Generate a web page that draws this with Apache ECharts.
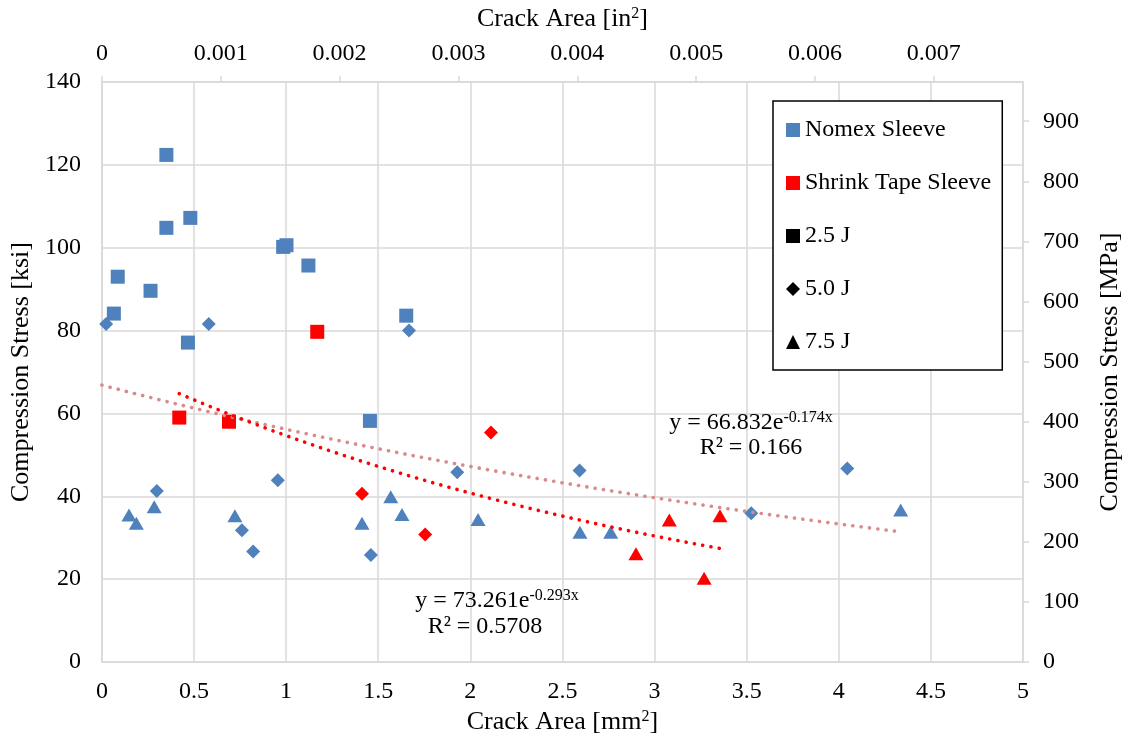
<!DOCTYPE html>
<html><head><meta charset="utf-8">
<script src="https://cdn.jsdelivr.net/npm/echarts@6/dist/echarts.min.js"></script>
<style>html,body{margin:0;padding:0;background:#fff}#c{width:1131px;height:744px}</style>
</head><body><div id="c"></div>
<script>
// ---- data (crack area in mm^2, compression stress in ksi) ----
const nomex25X = [0.350, 0.350, 0.480, 0.086, 0.264, 0.065, 0.467, 0.984, 1.002, 1.121, 1.652, 1.455];
const nomex25Y = [122.4, 104.8, 107.2, 93.0, 89.6, 84.1, 77.1, 100.2, 100.6, 95.7, 83.6, 58.2];
const nomex50X = [0.023, 0.580, 1.667, 0.298, 0.955, 0.760, 0.821, 1.460, 1.929, 2.593, 3.525, 4.046];
const nomex50Y = [81.6, 81.6, 80.0, 41.3, 43.9, 31.8, 26.7, 25.8, 45.8, 46.2, 35.9, 46.7];
const nomex75X = [0.147, 0.187, 0.284, 0.722, 1.412, 1.568, 1.629, 2.042, 2.595, 2.762, 4.336];
const nomex75Y = [35.5, 33.5, 37.5, 35.3, 33.5, 39.9, 35.6, 34.4, 31.3, 31.3, 36.7];
const shrink25X = [1.169, 0.420, 0.690];
const shrink25Y = [79.7, 59.0, 58.0];
const shrink50X = [1.412, 1.755, 2.112];
const shrink50Y = [40.6, 30.8, 55.4];
const shrink75X = [3.080, 3.355, 2.899, 3.269];
const shrink75Y = [34.3, 35.3, 26.1, 20.2];
// exponential trendlines shown on the chart: y = a * e^(b x)
const nomexFit = [66.832, -0.174];
const nomexFitRange = [0, 4.336];
const shrinkFit = [73.261, -0.293];
const shrinkFitRange = [0.420, 3.355];
const legendNames = ['Nomex Sleeve', 'Shrink Tape Sleeve', '2.5 J', '5.0 J', '7.5 J'];
const MM2_PER_IN2 = 645.16;
const MPA_PER_KSI = 6.894757;

const BLUE = '#4f81bd', RED = '#ff0000', TREND_N = '#d98b8b', GRID = '#d9d9d9';
const FONT = 'Liberation Serif';
const legendColors = [BLUE, RED, '#000', '#000', '#000'];
const legendIcons = ['rect', 'rect', 'rect', 'diamond', 'triangle'];
const pairs = (xs, ys) => xs.map((x, i) => [x, ys[i]]);
function fitCurve(fit, range, n) {
  const pts = [];
  for (let i = 0; i <= n; i++) {
    const x = range[0] + (range[1] - range[0]) * i / n;
    pts.push([x, fit[0] * Math.exp(fit[1] * x)]);
  }
  return pts;
}
const sup = { fontSize: 16, fontFamily: FONT, color: '#000', verticalAlign: 'top', lineHeight: 26 };
const noMinor = { minorTick: { show: false }, minorSplitLine: { show: false } };

function scatter(name, data, symbol, size, color) {
  return { name, type: 'scatter', data, symbol, symbolSize: size, itemStyle: { color, opacity: 1 }, z: 3,
           xAxisIndex: 0, yAxisIndex: 0, emphasis: { disabled: true } };
}
const chart = echarts.init(document.getElementById('c'));
chart.setOption({
  animation: false,
  backgroundColor: '#fff',
  grid: { left: 100, right: 103, top: 82, bottom: 82 },
  legend: {
    data: legendNames.map((n, i) => ({ name: n, icon: legendIcons[i],
      itemStyle: { color: legendColors[i], opacity: 1 } })),
    orient: 'vertical', left: 773, top: 101, padding: [17, 11, 16, 13], itemGap: 29,
    itemWidth: 14, itemHeight: 14, backgroundColor: '#fff', borderColor: '#000', borderWidth: 1.5,
    textStyle: { fontFamily: FONT, fontSize: 24, color: '#000' }, selectedMode: false
  },
  xAxis: [
    { type: 'value', position: 'bottom', min: 0, max: 5, interval: 0.5, ...noMinor,
      axisLine: { show: true, onZero: false, lineStyle: { color: GRID, width: 1.5 } },
      axisTick: { show: false },
      splitLine: { show: true, lineStyle: { color: GRID, width: 1.5 } },
      axisLabel: { fontFamily: FONT, fontSize: 24, color: '#000', margin: 18 },
      name: 'Crack Area [mm{sup|2}]', nameLocation: 'middle', nameGap: 44,
      nameTextStyle: { fontFamily: FONT, fontSize: 26, color: '#000', rich: { sup } } },
    { type: 'value', position: 'top', min: 0, max: 5 / MM2_PER_IN2, interval: 0.001, ...noMinor,
      axisLine: { show: true, onZero: false, lineStyle: { color: GRID, width: 1.5 } },
      axisTick: { show: true, length: 6, lineStyle: { color: GRID, width: 1.5 } },
      splitLine: { show: false },
      axisLabel: { fontFamily: FONT, fontSize: 24, color: '#000', margin: 16, showMaxLabel: false,
        formatter: v => (v > 0.0071 ? '' : (v === 0 ? '0' : v.toFixed(3))) },
      name: 'Crack Area [in{sup|2}]', nameLocation: 'middle', nameGap: 50,
      nameTextStyle: { fontFamily: FONT, fontSize: 26, color: '#000', rich: { sup } } }
  ],
  yAxis: [
    { type: 'value', position: 'left', min: 0, max: 140, interval: 20, ...noMinor,
      axisLine: { show: true, onZero: false, lineStyle: { color: GRID, width: 1.5 } },
      axisTick: { show: false },
      splitLine: { show: true, lineStyle: { color: GRID, width: 1.5 } },
      axisLabel: { fontFamily: FONT, fontSize: 24, color: '#000', margin: 21 },
      name: 'Compression Stress [ksi]', nameLocation: 'middle', nameGap: 62, nameRotate: 90,
      nameTextStyle: { fontFamily: FONT, fontSize: 26, color: '#000' } },
    { type: 'value', position: 'right', min: 0, max: 140 * MPA_PER_KSI, interval: 100, ...noMinor,
      axisLine: { show: true, onZero: false, lineStyle: { color: GRID, width: 1.5 } },
      axisTick: { show: true, length: 6, lineStyle: { color: GRID, width: 1.5 } },
      splitLine: { show: false },
      axisLabel: { fontFamily: FONT, fontSize: 24, color: '#000', margin: 20, showMaxLabel: false,
        formatter: v => (v > 950 ? '' : String(v)) },
      name: 'Compression Stress [MPa]', nameLocation: 'middle', nameGap: 74, nameRotate: 90,
      nameTextStyle: { fontFamily: FONT, fontSize: 26, color: '#000' } }
  ],
  series: [
    scatter('Nomex 2.5 J', pairs(nomex25X, nomex25Y), 'rect', 14, BLUE),
    scatter('Nomex 5.0 J', pairs(nomex50X, nomex50Y), 'diamond', 14, BLUE),
    scatter('Nomex 7.5 J', pairs(nomex75X, nomex75Y), 'triangle', [15, 13], BLUE),
    scatter('Shrink 2.5 J', pairs(shrink25X, shrink25Y), 'rect', 14, RED),
    scatter('Shrink 5.0 J', pairs(shrink50X, shrink50Y), 'diamond', 14, RED),
    scatter('Shrink 7.5 J', pairs(shrink75X, shrink75Y), 'triangle', [15, 13], RED),
    { name: 'Nomex trend', type: 'line', data: fitCurve(nomexFit, nomexFitRange, 60), showSymbol: false,
      lineStyle: { color: TREND_N, width: 3.6, type: [0.1, 8.3], cap: 'round' }, z: 4, silent: true },
    { name: 'Shrink trend', type: 'line', data: fitCurve(shrinkFit, shrinkFitRange, 60), showSymbol: false,
      lineStyle: { color: RED, width: 3.6, type: [0.1, 8.3], cap: 'round' }, z: 4, silent: true },
    ...legendNames.map((n, i) => ({ name: n, type: 'scatter', data: [], symbol: legendIcons[i],
      itemStyle: { color: legendColors[i], opacity: 1 } }))
  ],
  graphic: [
    { type: 'text', z: 10, style: { x: 751, y: 423, align: 'center', verticalAlign: 'middle',
      text: 'y = 66.832e{sup|-0.174x}', fontFamily: FONT, fontSize: 24, fill: '#000', rich: { sup } } },
    { type: 'text', z: 10, style: { x: 751, y: 448, align: 'center', verticalAlign: 'middle',
      text: 'R² = 0.166', fontFamily: FONT, fontSize: 24, fill: '#000' } },
    { type: 'text', z: 10, style: { x: 497, y: 601, align: 'center', verticalAlign: 'middle',
      text: 'y = 73.261e{sup|-0.293x}', fontFamily: FONT, fontSize: 24, fill: '#000', rich: { sup } } },
    { type: 'text', z: 10, style: { x: 485, y: 627, align: 'center', verticalAlign: 'middle',
      text: 'R² = 0.5708', fontFamily: FONT, fontSize: 24, fill: '#000' } }
  ]
});
</script></body></html>
